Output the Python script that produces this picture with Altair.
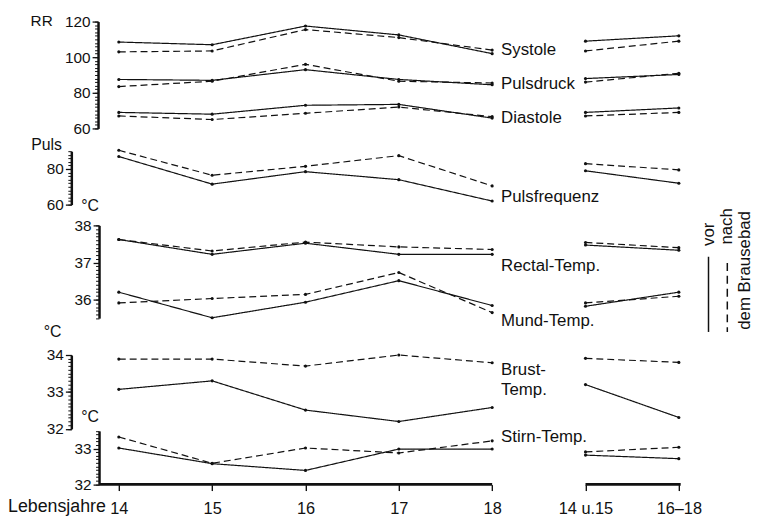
import altair as alt
import pandas as pd
import numpy as np

FONT = "Liberation Sans"
INK = "#111111"

# ---------------- data ----------------
x_values = [14, 15, 16, 17, 18, 19, 20]
x_labels = ["14", "15", "16", "17", "18", "14 u.15", "16–18"]
x_segment = ["a", "a", "a", "a", "a", "b", "b"]
conds = ["vor", "nach"]

systole_vor = [108.5, 107.0, 117.5, 112.5, 102.0, 109.0, 112.0]
systole_nach = [103.0, 103.5, 115.5, 111.0, 104.0, 103.5, 109.0]
pulsdruck_vor = [87.5, 87.0, 93.0, 87.5, 84.5, 88.0, 90.3]
pulsdruck_nach = [83.5, 86.5, 96.0, 86.5, 85.5, 86.0, 91.0]
diastole_vor = [69.0, 68.0, 73.0, 73.5, 65.8, 69.0, 71.5]
diastole_nach = [67.0, 65.0, 68.5, 72.0, 66.6, 67.0, 69.0]
puls_vor = [87.0, 71.5, 78.5, 74.0, 62.0, 79.0, 72.0]
puls_nach = [90.5, 76.5, 81.5, 87.5, 70.5, 83.0, 79.5]
rectal_vor = [37.62, 37.22, 37.52, 37.22, 37.22, 37.47, 37.33]
rectal_nach = [37.62, 37.31, 37.55, 37.42, 37.35, 37.54, 37.40]
mund_vor = [36.20, 35.51, 35.93, 36.51, 35.84, 35.82, 36.20]
mund_nach = [35.91, 36.03, 36.14, 36.73, 35.65, 35.91, 36.09]
brust_vor = [33.07, 33.30, 32.51, 32.20, 32.58, 33.20, 32.31]
brust_nach = [33.89, 33.89, 33.70, 34.00, 33.79, 33.91, 33.80]
stirn_vor = [33.02, 32.58, 32.39, 32.99, 32.99, 32.82, 32.72]
stirn_nach = [33.33, 32.59, 33.02, 32.88, 33.22, 32.91, 33.04]

# series labels (text, value on the panel's scale where it sits)
rr_labels = [("Systole", 104.1), ("Pulsdruck", 85.0), ("Diastole", 65.6)]
puls_labels = [("Pulsfrequenz", 64.1)]
temp_labels = [("Rectal-Temp.", 36.91), ("Mund-Temp.", 35.42)]
brust_labels = [("Brust-", 33.58), ("Temp.", 33.06)]
stirn_labels = [("Stirn-Temp.", 33.34)]

legend_labels = ["vor", "nach", "dem Brausebad"]

# x axis line pieces (from, to)
x_line_from = [13.79, 19]
x_line_to = [18, 20.02]


def long_df(series):
    rows = []
    for name, vor, nach in series:
        for cond, vals in zip(conds, (vor, nach)):
            for x, seg, v in zip(x_values, x_segment, vals):
                rows.append({"series": name, "cond": cond, "x": x, "v": v,
                             "key": f"{name}-{cond}-{seg}"})
    return pd.DataFrame(rows)


label_expr = "[" + ",".join(f"'{l}'" for l in x_labels) + "][datum.value - 14]"

x_enc = alt.X(
    "x:Q",
    scale=alt.Scale(domain=[14, 20], range=[20, 586], nice=False, zero=False),
    axis=alt.Axis(orient="bottom", values=x_values, labelExpr=label_expr, domain=False,
                  grid=False, title=None, tickSize=6, tickWidth=1.4, tickColor=INK,
                  labelFont=FONT, labelFontSize=16.5, labelColor=INK, labelPadding=10,
                  labelFlush=False, labelOverlap=False),
)

dash = alt.StrokeDash("cond:N", scale=alt.Scale(domain=conds, range=[[1, 0], [7, 4]]),
                      legend=None)


def panel(series, labels, domain, rng, ticks, minor, offset, axis_rule=False):
    df = long_df(series)
    sc = alt.Scale(domain=domain, range=rng, nice=False, zero=False)
    y = alt.Y("v:Q", scale=sc,
              axis=alt.Axis(orient="left", values=ticks, offset=offset, title=None, grid=False,
                            labelExpr="'' + round(datum.value)", domainWidth=2.5,
                            domainColor=INK, tickSize=6, tickWidth=1.3, tickColor=INK,
                            labelFont=FONT, labelFontSize=15.5, labelColor=INK,
                            labelPadding=2, labelFlush=False, labelOverlap=False,
                            labelBound=False))
    lines = alt.Chart(df).mark_line(color=INK, strokeWidth=1.2).encode(
        x=x_enc, y=y, strokeDash=dash, detail="key:N")
    pts = alt.Chart(df).mark_circle(color=INK, size=10, opacity=1).encode(x=x_enc, y=y)
    ldf = pd.DataFrame({"t": [l[0] for l in labels], "v": [l[1] for l in labels],
                        "x": [18] * len(labels)})
    txt = alt.Chart(ldf).mark_text(align="left", baseline="middle", dx=9, font=FONT,
                                   fontSize=17, color=INK).encode(x=x_enc, y=y, text="t:N")
    layers = [lines, pts, txt]
    if axis_rule:
        rdf = pd.DataFrame({"x": x_line_from, "x2": x_line_to, "v": [domain[0]] * 2})
        layers.append(alt.Chart(rdf).mark_rule(color=INK, strokeWidth=2.8).encode(
            x=x_enc, x2="x2:Q", y=y))
    main = alt.layer(*layers)
    minor_layer = alt.Chart(df).mark_circle(opacity=0).encode(
        x=x_enc,
        y=alt.Y("v:Q", scale=alt.Scale(domain=domain, range=rng, nice=False, zero=False),
                axis=alt.Axis(orient="left", values=minor, offset=offset, title=None,
                              grid=False, labels=False, domain=False, tickSize=3.5,
                              tickWidth=1, tickColor=INK)))
    return [main, minor_layer]


def steps(lo, hi, step):
    return [round(v, 2) for v in np.arange(lo, hi + step / 2, step)]


layers = []
layers += panel([("Systole", systole_vor, systole_nach),
                 ("Pulsdruck", pulsdruck_vor, pulsdruck_nach),
                 ("Diastole", diastole_vor, diastole_nach)],
                rr_labels, [60, 120], [117, 9], [60, 80, 100, 120], steps(60, 120, 2), 1)
layers += panel([("Puls", puls_vor, puls_nach)],
                puls_labels, [60, 90], [194, 140], [60, 80], steps(60, 90, 2), 28)
layers += panel([("Rectal", rectal_vor, rectal_nach), ("Mund", mund_vor, mund_nach)],
                temp_labels, [35.5, 38], [308.75, 215], [36, 37, 38], steps(35.5, 38, 0.1), 0)
layers += panel([("Brust", brust_vor, brust_nach)],
                brust_labels, [32, 34], [420.7, 346], [32, 33, 34], steps(32, 34, 0.1), 28)
layers += panel([("Stirn", stirn_vor, stirn_nach)],
                stirn_labels, [32, 33.5], [476.7, 422.7], [32, 33], steps(32, 33.5, 0.1), 0,
                axis_rule=True)

one = pd.DataFrame({"a": [0]})


def note(text, px, py, size=15, angle=0, align="center"):
    return alt.Chart(pd.DataFrame({"t": [text]})).mark_text(
        font=FONT, fontSize=size, color=INK, angle=angle, align=align,
        baseline="middle").encode(x=alt.value(px), y=alt.value(py), text="t:N")


unit_notes = [
    note("RR", -58, 8, 15.5),
    note("Puls", -53, 134, 16),
    note("°C", -9, 195, 16),
    note("°C", -47, 323, 16),
    note("°C", -9, 409, 16),
    note("Lebensjahre", 7, 500, 18, align="right"),
]

legend_marks = [
    note(legend_labels[0], 616.7, 224, 17, angle=270),
    note(legend_labels[1], 635, 216, 17, angle=270),
    note(legend_labels[2], 653.3, 260.5, 17, angle=270),
    alt.Chart(one).mark_rule(color=INK, strokeWidth=1.5).encode(
        x=alt.value(616), y=alt.value(246.7), y2=alt.value(322.7)),
    alt.Chart(one).mark_rule(color=INK, strokeWidth=1.5, strokeDash=[8, 5]).encode(
        x=alt.value(635), y=alt.value(253), y2=alt.value(322.7)),
]

chart = (
    alt.layer(*layers, *unit_notes, *legend_marks)
    .resolve_scale(y="independent")
    .properties(width=664, height=477, autosize=alt.AutoSizeParams(type="none"),
                padding={"left": 92, "top": 2, "right": 0, "bottom": 29},
                background="white")
    .configure_view(stroke=None)
)

chart.save("out.html", embed_options={"renderer": "svg", "actions": False})
